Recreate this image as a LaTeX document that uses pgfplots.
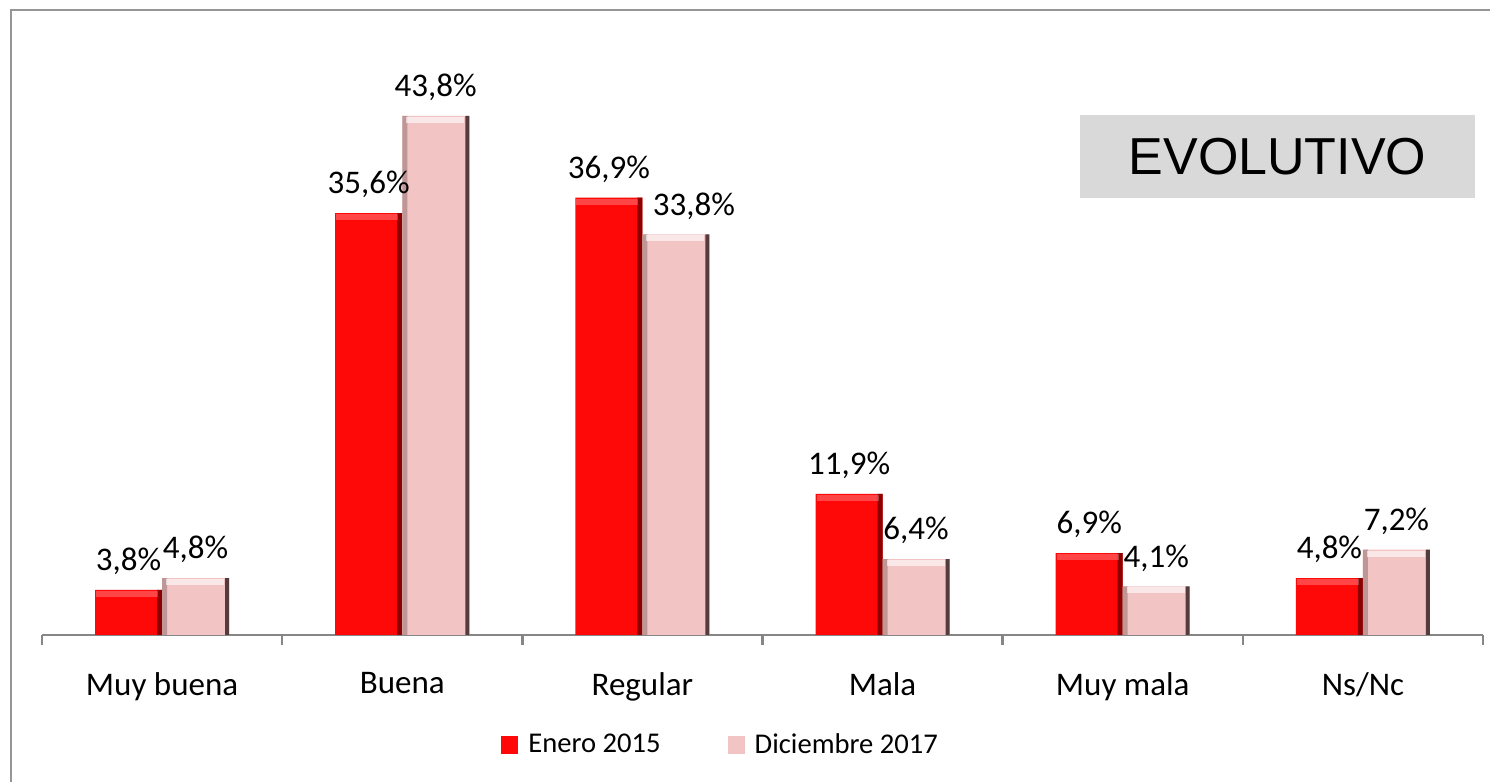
\documentclass[border=0pt]{standalone}
\usepackage{fontspec}
\setmainfont{Carlito}
\newfontfamily\arialf{Liberation Sans}
\usepackage{pgfplots}
\usepackage{pgfplotstable}
\pgfplotsset{compat=1.18}
\definecolor{redbar}{RGB}{255,8,8}
\definecolor{reddark}{RGB}{140,0,0}
\definecolor{pinkbar}{RGB}{243,196,196}
\definecolor{pinkdark}{RGB}{85,60,60}
\definecolor{pinkmid}{RGB}{190,150,150}
\definecolor{axgray}{RGB}{134,134,134}
\definecolor{framegray}{RGB}{150,150,150}
\definecolor{boxgray}{RGB}{217,217,217}
\pgfplotstableread{
x ene dic dx
0 3.8 4.8 0
1 35.6 43.8 0
2 36.9 33.8 9
3 11.9 6.4 0
4 6.9 4.1 0
5 4.8 7.2 0
}\datatable
\begin{document}
\begin{tikzpicture}
\useasboundingbox (0,0) rectangle (745pt,391pt);
\draw[framegray,line width=1pt] (5.5pt,-2pt) -- (5.5pt,385.75pt) -- (747pt,385.75pt);
\begin{axis}[
  at={(21pt,73.5pt)}, anchor=south west,
  scale only axis, width=720.5pt, height=296.25pt,
  xmin=-0.5, xmax=5.5, ymin=0, ymax=50,
  axis x line*=bottom, axis y line=none,
  ybar=0pt, bar width=33.5pt,
  xtick={0,...,5},
  xticklabels={Muy buena,Buena,Regular,Mala,Muy mala,Ns/Nc},
  major x tick style={draw=none},
  minor xtick={-0.5,0.5,...,5.5},
  minor tick length=5pt, tick align=outside,
  minor x tick style={axgray,line width=1.2pt},
  x axis line style={axgray,line width=1.2pt},
  xticklabel style={font=\fontsize{16.5}{18}\selectfont, yshift=-11pt},
  lbl/.style={nodes near coords={\pgfmathprintnumber[fixed,fixed zerofill,precision=1,use comma,assume math mode=true]{\pgfplotspointmeta}\%},
    every node near coord/.append style={font=\fontsize{16.5}{18}\selectfont, text=black, yshift=4pt}},
  legend style={at={(0.4717,-0.1857)}, anchor=center, draw=none, fill=none,
    font=\fontsize{14.3}{16}\selectfont, legend columns=2,
    /tikz/every even column/.append style={column sep=31.5pt}},
  legend image code/.code={\fill[#1] (0pt,-4.5pt) rectangle (8.5pt,4.5pt); \path (11.5pt,0pt);},
  clip=false,
]
% main bars
\addplot[draw=none, fill=redbar, bar width=33.5pt, bar shift=-16.75pt, lbl] table[x=x,y=ene] {\datatable};
\addlegendentry{Enero 2015}
\addplot[draw=none, fill=pinkbar, bar width=33.5pt, bar shift=16.75pt, lbl,
  visualization depends on={\thisrow{dx} \as \dxval},
  every node near coord/.append style={xshift=\dxval pt}] table[x=x,y=dic] {\datatable};
\addlegendentry{Diciembre 2017}
% bevel strips
\addplot[forget plot, draw=none, fill=reddark, bar width=2.5pt, bar shift=-1.25pt] table[x=x,y=ene] {\datatable};
\addplot[forget plot, draw=none, fill=pinkmid, bar width=2.5pt, bar shift=1.25pt] table[x=x,y=dic] {\datatable};
\addplot[forget plot, draw=none, fill=pinkdark, bar width=2pt, bar shift=32.5pt] table[x=x,y=dic] {\datatable};
% top highlights
\addplot[forget plot, only marks, mark=-, mark size=15.5pt,
  mark options={line width=3pt, draw=white, opacity=0.25, xshift=-17.5pt, yshift=-2pt}] table[x=x,y=ene] {\datatable};
\addplot[forget plot, only marks, mark=-, mark size=14.5pt,
  mark options={line width=3pt, draw=white, opacity=0.6, xshift=16.5pt, yshift=-2pt}] table[x=x,y=dic] {\datatable};
\end{axis}
\node[fill=boxgray, minimum width=197.5pt, minimum height=41.5pt, inner sep=0pt,
  font=\arialf\fontsize{26}{30}\selectfont] at (638.75pt,312.75pt) {EVOLUTIVO};
\end{tikzpicture}
\end{document}
